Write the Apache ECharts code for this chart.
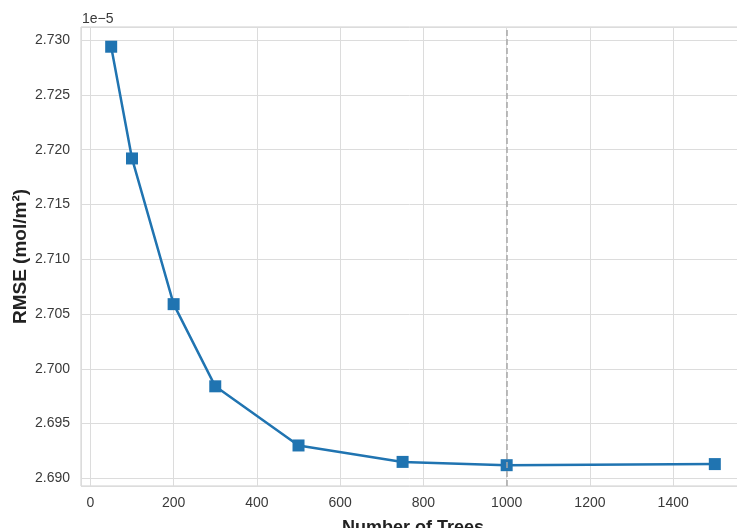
<!DOCTYPE html>
<html>
<head>
<meta charset="utf-8">
<script src="https://cdn.jsdelivr.net/npm/echarts@6/dist/echarts.min.js"></script>
<style>
  html, body { margin: 0; padding: 0; background: #fff; }
  #chart { width: 737px; height: 528px; }
</style>
</head>
<body>
<div id="chart"></div>
<script>
// Number of trees vs. RMSE (values in units of 1e-5 mol/m²)
const trees = [50, 100, 200, 300, 500, 750, 1000, 1500];
const rmse = [2.7294, 2.7192, 2.7059, 2.6984, 2.6930, 2.6915, 2.6912, 2.6913];
const chosenTrees = 1000;
const scaleLabel = '1e\u22125';

const xMin = -22.5, xMax = 1572.5;
const yMin = 2.6893, yMax = 2.7312;

const chart = echarts.init(document.getElementById('chart'));
const tickFont = { fontFamily: 'Liberation Sans', fontSize: 14, color: '#3a3a3a' };
const gridLine = { show: true, lineStyle: { color: '#dcdcdc', width: 1 } };

chart.setOption({
  animation: false,
  backgroundColor: '#ffffff',
  grid: {
    left: 81, top: 27, right: -8, bottom: 42,
    outerBoundsMode: 'none', containLabel: false,
    show: true, borderColor: '#cfcfcf', borderWidth: 1
  },
  graphic: [{
    type: 'text', left: 82, top: 12,
    style: { text: scaleLabel, font: '14px "Liberation Sans"', fill: '#3a3a3a' }
  }],
  xAxis: {
    type: 'value', min: xMin, max: xMax, splitNumber: 8,
    name: 'Number of Trees', nameLocation: 'middle', nameGap: 33, nameMoveOverlap: false,
    nameTextStyle: { fontFamily: 'Liberation Sans', fontWeight: 'bold', fontSize: 18, color: '#222' },
    axisLine: { show: false }, axisTick: { show: false },
    axisLabel: Object.assign({ margin: 10, formatter: v => (Math.abs(v % 200) < 1e-6 ? String(v) : '') }, tickFont),
    splitLine: gridLine
  },
  yAxis: {
    type: 'value', min: yMin, max: yMax, splitNumber: 8,
    name: 'RMSE (mol/m²)', nameLocation: 'middle', nameGap: 51, nameMoveOverlap: false,
    nameTextStyle: { fontFamily: 'Liberation Sans', fontWeight: 'bold', fontSize: 19, color: '#222' },
    axisLine: { show: false }, axisTick: { show: false },
    axisLabel: Object.assign({ margin: 11, formatter: v => {
      const k = Math.round(v / 0.005);
      return Math.abs(v - k * 0.005) < 1e-7 ? (k * 0.005).toFixed(3) : '';
    } }, tickFont),
    splitLine: gridLine
  },
  series: [{
    type: 'line',
    data: trees.map((t, i) => [t, rmse[i]]),
    symbol: 'rect', symbolSize: 12,
    lineStyle: { color: '#2074b1', width: 2.5 },
    itemStyle: { color: '#2074b1' },
    markLine: {
      silent: true, symbol: 'none', label: { show: false },
      lineStyle: { color: '#a8a8a8', type: [6, 3], width: 1.5 },
      data: [{ xAxis: chosenTrees }]
    }
  }]
});
</script>
</body>
</html>
